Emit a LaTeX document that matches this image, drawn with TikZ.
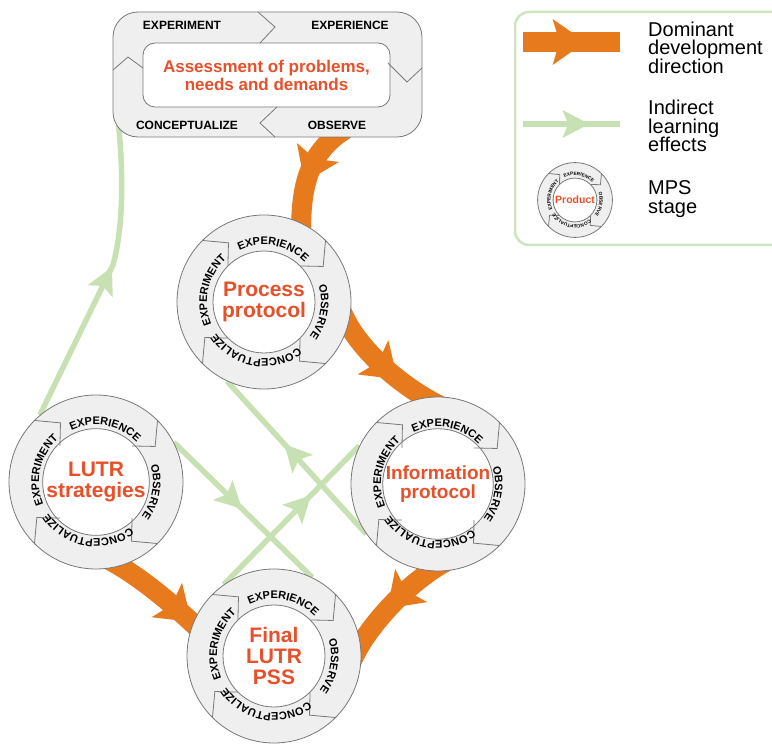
\documentclass[tikz,border=0pt]{standalone}
\usepackage{fontspec}
\setmainfont{Liberation Sans}
\usetikzlibrary{calc,decorations.text,decorations.markings}
\pgfdeclarelayer{background}
\pgfsetlayers{background,main}

\definecolor{domorange}{RGB}{232,122,30}
\definecolor{lgreen}{RGB}{200,225,178}
\definecolor{frameg}{RGB}{206,228,190}
\definecolor{labred}{RGB}{232,80,42}
\definecolor{ringgray}{RGB}{239,239,239}
\definecolor{edgegray}{RGB}{120,120,120}

\newcommand\legfont{\fontsize{20}{18.3}\selectfont\lineskiplimit-8pt\relax}

\tikzset{
  ring/.style={circle, draw=edgegray, fill=ringgray, line width=0.8pt, inner sep=0pt},
  hub/.style={circle, draw=edgegray, fill=white, line width=0.8pt, inner sep=0pt, text=labred, align=center},
  sepline/.style={draw=edgegray, line width=0.8pt},
  domarrow/.style={draw=domorange, line width=20pt, postaction={decorate},
    decoration={markings, mark=at position #1 with {\fill[domorange] (-16pt,-23pt) -- (17pt,0pt) -- (-16pt,23pt) -- (-9pt,0pt) -- cycle;}}},
  lrnarrow/.style={draw=lgreen, line width=5.5pt, postaction={decorate},
    decoration={markings, mark=at position #1 with {\fill[lgreen] (-13pt,-14pt) -- (14pt,0pt) -- (-13pt,14pt) -- (-7pt,0pt) -- cycle;}}},
  boxword/.style={inner sep=0pt, font=\bfseries\fontsize{12}{12}\selectfont},
  legtext/.style={anchor=west, align=left, inner sep=0pt, font=\legfont},
}

\begin{document}
\begin{tikzpicture}[x=1pt,y=1pt]
\useasboundingbox (0,0) rectangle (772,-746);

% assessment box
\node[draw=edgegray, fill=ringgray, line width=0.8pt, rounded corners=25pt, minimum width=309pt, minimum height=125pt] (A) at (267.5,-74.5) {};
\node[draw=edgegray, fill=white, line width=0.8pt, rounded corners=12pt, minimum width=247pt, minimum height=64pt,
  text=labred, align=center, font=\bfseries\fontsize{17}{18}\selectfont] (A-hub) at (266.5,-75) {Assessment of problems,\\needs and demands};
\draw[sepline] (258,-12) -- (275,-27) -- (260,-43);
\draw[sepline] (388,-63) -- (407,-82) -- (422,-68);
\draw[sepline] (277,-107) -- (260,-123) -- (275,-137);
\draw[sepline] (113,-70) -- (128,-57) -- (143,-68);
\node[boxword] (a-exm) at (182,-25) {EXPERIMENT};
\node[boxword] (a-exp) at (350,-25) {EXPERIENCE};
\node[boxword] (a-con) at (187,-125) {CONCEPTUALIZE};
\node[boxword] (a-obs) at (337,-125) {OBSERVE};

% MPS stages
\foreach \nm/\cx/\cy/\sc/\rs/\fs/\lab in {
  P/264/-302/1/11/21/{Process\\protocol},
  L/96/-482/1/11/21/{LUTR\\strategies},
  I/438/-484/1/11/19/{Information\\protocol},
  F/274/-656/1/11/21/{Final\\LUTR\\PSS},
  M/575/-200/0.43/4.7/10.5/{Product}}{
  \node[ring, minimum size=\sc*174pt] (\nm) at (\cx,\cy) {};
  \node[hub, minimum size=\sc*102pt, font=\bfseries\fontsize{\fs}{\fs}\selectfont] (\nm-hub) at (\nm) {\lab};
  \foreach \ang in {135,45,-45,-135}
    \draw[sepline] ([shift={(\ang:\sc*87pt)}]\nm.center) -- ([shift={(\ang-14:\sc*69pt)}]\nm.center) -- ([shift={(\ang:\sc*51pt)}]\nm.center);
  \path[decorate, decoration={text along path, text align=center, text={|\fontsize{\rs}{\rs}\selectfont\bfseries|EXPERIENCE}}]
    ([shift={(140:\sc*57pt)}]\nm.center) arc[start angle=140, end angle=20, radius=\sc*57pt];
  \path[decorate, decoration={text along path, text align=center, text={|\fontsize{\rs}{\rs}\selectfont\bfseries|OBSERVE}}]
    ([shift={(50:\sc*57pt)}]\nm.center) arc[start angle=50, end angle=-70, radius=\sc*57pt];
  \path[decorate, decoration={text along path, text align=center, text={|\fontsize{\rs}{\rs}\selectfont\bfseries|CONCEPTUALIZE}}]
    ([shift={(-40:\sc*57pt)}]\nm.center) arc[start angle=-40, end angle=-160, radius=\sc*57pt];
  \path[decorate, decoration={text along path, text align=center, text={|\fontsize{\rs}{\rs}\selectfont\bfseries|EXPERIMENT}}]
    ([shift={(227:\sc*57pt)}]\nm.center) arc[start angle=227, end angle=107, radius=\sc*57pt];
}

% legend
\draw[draw=frameg, line width=2.5pt, rounded corners=14pt] (772,-12) -- (515,-12) -- (515,-245) -- (772,-245);
\coordinate (d1) at (523,-42);
\coordinate (d2) at (620,-42);
\coordinate (e1) at (523,-124);
\coordinate (e2) at (620,-124);
\node[legtext] (d-txt) at (648,-47.7) {Dominant\\development\\direction};
\node[legtext] (e-txt) at (648,-126) {Indirect\\learning\\effects};
\node[legtext] (m-txt) at (648,-199) {MPS\\stage};

\begin{pgfonlayer}{background}
\draw[domarrow=0.47] (d1) -- (d2);
\draw[lrnarrow=0.54] (e1) -- (e2);
% dominant direction
\draw[domarrow=0.42] ([yshift=8pt]A.-39) .. controls +(-40,-25) and +(0,45) .. ([yshift=-14pt]P.65);
\draw[domarrow=0.5] ([xshift=-10pt]P.-5) .. controls +(15,-40) and +(-40,18) .. ([shift={(8pt,-12pt)}]I.90);
\draw[domarrow=0.42] ([yshift=12pt]I.-80) .. controls +(-40,-18) and +(12,40) .. ([xshift=-12pt]F.-10);
\draw[domarrow=0.68] ([yshift=12pt]L.-85) .. controls +(40,-20) and +(-25,25) .. ([shift={(20pt,-10pt)}]F.163);
% indirect learning
\coordinate (g1) at (113,-265);
\draw[lrnarrow=0.49] (L.130) -- (g1) .. controls (124,-225) and (123,-170) .. ([shift={(6pt,12pt)}]A.south west);
\draw[lrnarrow=0.42] (L.27) -- (F.64);
\draw[lrnarrow=0.52] (I.215) -- (P.245);
\draw[lrnarrow=0.57] (F.125) -- (I.154);
\end{pgfonlayer}
\end{tikzpicture}
\end{document}
